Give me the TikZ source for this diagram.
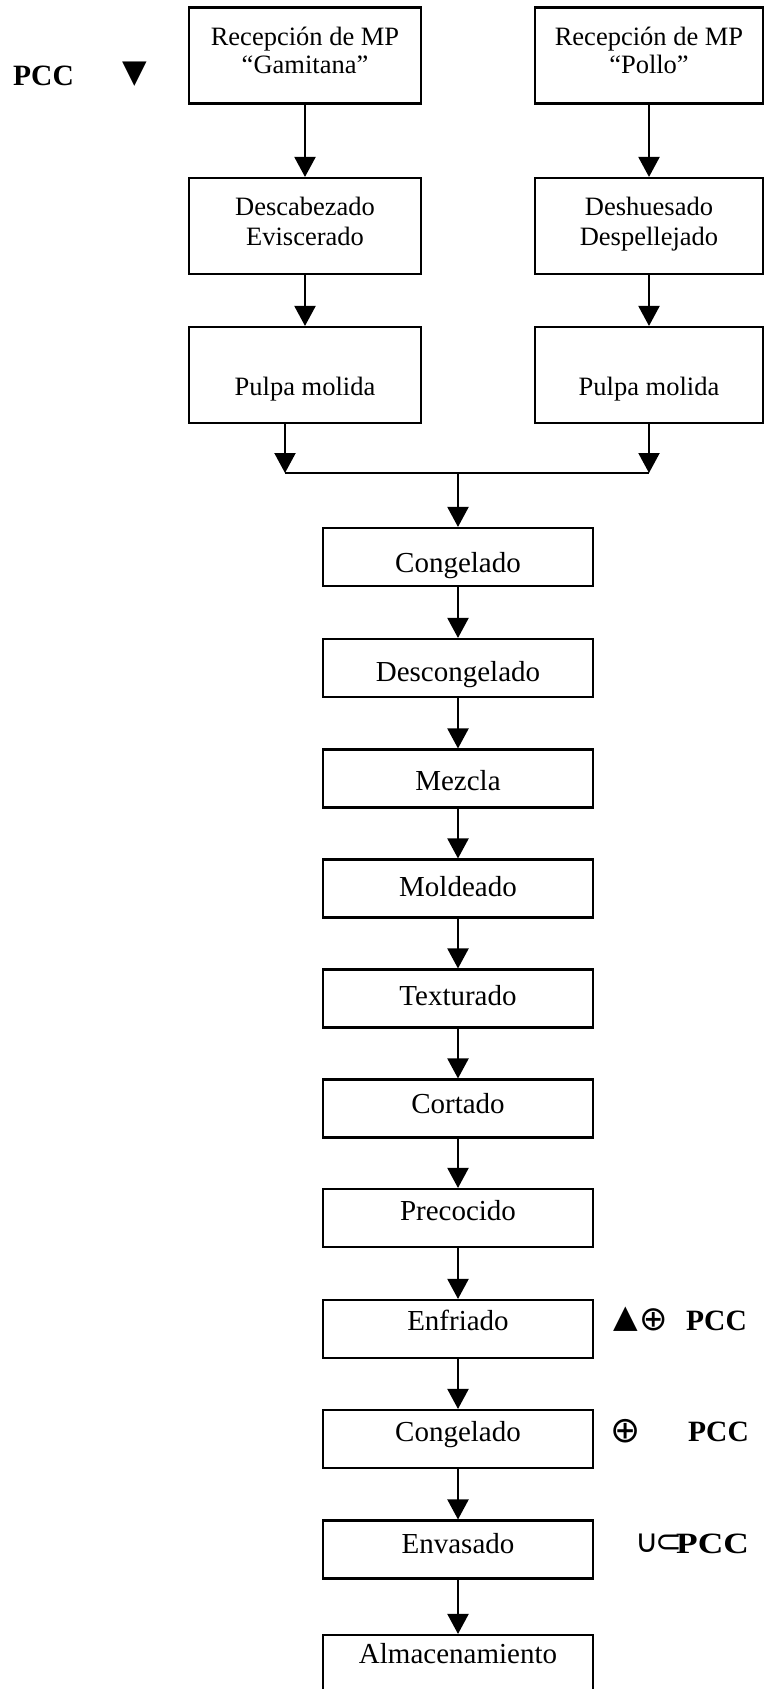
\documentclass[tikz,border=0pt]{standalone}
\usepackage{fontspec}
\setmainfont{Liberation Serif}
\newfontfamily\symfont{DejaVu Sans}
\usetikzlibrary{arrows.meta}
\begin{document}
\begin{tikzpicture}[x=1pt,y=-1pt,
  stepbox/.style={draw, line width=2.1pt, inner sep=0pt},
  topbox/.style={stepbox, minimum height=96pt},
  midbox/.style={stepbox, minimum width=270pt, minimum height=58pt},
  toptext/.style={font=\fontsize{26.5}{28}\selectfont, inner sep=0pt, anchor=base},
  midtext/.style={font=\fontsize{29}{33}\selectfont, inner sep=0pt, anchor=base},
  pcc/.style={font=\fontsize{29.5}{33}\selectfont\bfseries, inner sep=0pt, anchor=base west},
  sym/.style={inner sep=0pt},
  arr/.style={line width=2.1pt, -{Triangle[width=21pt,length=20pt]}},
  joinline/.style={line width=2.1pt}]
\useasboundingbox (0,0) rectangle (764,1689);

% two raw-material branches
\node[topbox, minimum width=232pt] (a1) at (305,55.5) {};
\node[topbox, minimum width=228pt] (b1) at (649,55.5) {};
\node[topbox, minimum width=232pt] (a2) at (305,226) {};
\node[topbox, minimum width=228pt] (b2) at (649,226) {};
\node[topbox, minimum width=232pt] (a3) at (305,375) {};
\node[topbox, minimum width=228pt] (b3) at (649,375) {};

\node[toptext] (a1t1) at (305,45) {Recepción de MP};
\node[toptext] (a1t2) at (305,73) {“Gamitana”};
\node[toptext] (b1t1) at (649,45) {Recepción de MP};
\node[toptext] (b1t2) at (649,73) {“Pollo”};
\node[toptext] (a2t1) at (305,215) {Descabezado};
\node[toptext] (a2t2) at (305,245) {Eviscerado};
\node[toptext] (b2t1) at (649,215) {Deshuesado};
\node[toptext] (b2t2) at (649,245) {Despellejado};
\node[toptext] (a3t) at (305,395) {Pulpa molida};
\node[toptext] (b3t) at (649,395) {Pulpa molida};

% main process line
\node[midbox] (c1) at (458,557) {};
\node[midbox] (c2) at (458,668) {};
\node[midbox] (c3) at (458,778.5) {};
\node[midbox] (c4) at (458,888.5) {};
\node[midbox] (c5) at (458,998.5) {};
\node[midbox] (c6) at (458,1108.5) {};
\node[midbox] (c7) at (458,1218) {};
\node[midbox] (c8) at (458,1329) {};
\node[midbox] (c9) at (458,1439) {};
\node[midbox] (c10) at (458,1549.5) {};
\node[midbox, minimum height=90pt] (c11) at (458,1680) {};

\node[midtext] (c1t) at (458,572) {Congelado};
\node[midtext] (c2t) at (458,681) {Descongelado};
\node[midtext] (c3t) at (458,790) {Mezcla};
\node[midtext] (c4t) at (458,896) {Moldeado};
\node[midtext] (c5t) at (458,1005) {Texturado};
\node[midtext] (c6t) at (458,1113) {Cortado};
\node[midtext] (c7t) at (458,1220) {Precocido};
\node[midtext] (c8t) at (458,1330) {Enfriado};
\node[midtext] (c9t) at (458,1441) {Congelado};
\node[midtext] (c10t) at (458,1553) {Envasado};
\node[midtext] (c11t) at (458,1663) {Almacenamiento};

% connectors
\draw[arr] (a1) -- (a2);
\draw[arr] (b1) -- (b2);
\draw[arr] (a2) -- (a3);
\draw[arr] (b2) -- (b3);
\coordinate (jl) at (285,473);
\coordinate (jr) at (649,473);
\coordinate (jc) at (458,473);
\draw[arr] (a3.south -| jl) -- (jl);
\draw[arr] (b3) -- (jr);
\draw[joinline] (jl) -- (jr);
\draw[arr] (jc) -- (c1);
\draw[arr] (c1) -- (c2);
\draw[arr] (c2) -- (c3);
\draw[arr] (c3) -- (c4);
\draw[arr] (c4) -- (c5);
\draw[arr] (c5) -- (c6);
\draw[arr] (c6) -- (c7);
\draw[arr] (c7) -- (c8);
\draw[arr] (c8) -- (c9);
\draw[arr] (c9) -- (c10);
\draw[arr] (c10) -- (c11);

% critical control point marks
\node[pcc] (k0) at (13,85) {PCC};
\node[sym, font=\fontsize{32}{34}\symfont] (k0s) at (134.5,74) {▼};
\node[sym, font=\fontsize{32}{34}\symfont] (k1a) at (625.5,1319) {▲};
\node[sym, font=\fontsize{34}{36}\symfont] (k1b) at (654,1320) {⊕};
\node[pcc] (k1) at (686,1330) {PCC};
\node[sym, font=\fontsize{36}{38}\symfont] (k2a) at (626,1431) {⊕};
\node[pcc] (k2) at (688,1441) {PCC};
\node[sym, font=\fontsize{32}{34}\symfont] (k3a) at (659,1543) {∪\kern-3pt⊂};
\node[pcc] (k3) at (676,1553) {\scalebox{1.2}[1]{PCC}};
\end{tikzpicture}
\end{document}
